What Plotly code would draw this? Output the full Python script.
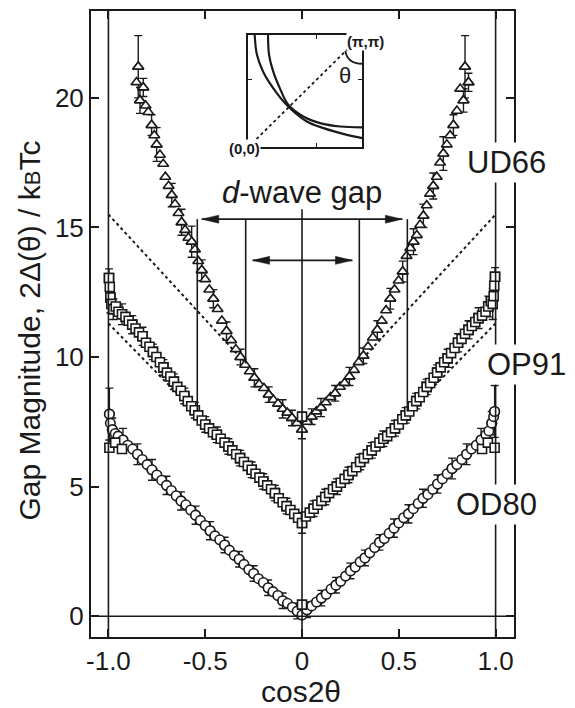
import plotly.graph_objects as go

# ---------------- data ----------------
# UD66 (triangles)
ud66_x = [-0.855, -0.846, -0.837, -0.82, -0.808, -0.794, -0.777, -0.763, -0.751, -0.734,
          -0.717, -0.706, -0.689, -0.673, -0.656, -0.638, -0.622, -0.604, -0.587, -0.57,
          -0.553, -0.536, -0.518, -0.5, -0.479, -0.458, -0.436, -0.414, -0.39, -0.366,
          -0.342, -0.318, -0.294, -0.27, -0.246, -0.221, -0.197, -0.172, -0.148, -0.124,
          -0.1, -0.076, -0.052, -0.026, 0.0,
          0.026, 0.05, 0.074, 0.098, 0.123, 0.147, 0.171, 0.196, 0.22, 0.245,
          0.269, 0.293, 0.317, 0.341, 0.366, 0.389, 0.412, 0.434, 0.456, 0.478,
          0.499, 0.52, 0.54, 0.559, 0.576, 0.593, 0.61, 0.627, 0.644, 0.661,
          0.678, 0.696, 0.713, 0.73, 0.748, 0.765, 0.782, 0.8, 0.817, 0.834, 0.842, 0.86]
ud66_y = [20.6, 21.2, 19.9, 20.4, 19.7, 19.45, 18.95, 18.55, 18.2, 17.8,
          17.45, 16.95, 16.6, 16.25, 15.9, 15.55, 15.2, 14.9, 14.6, 14.45,
          14.15, 13.7, 13.35, 13.0, 12.6, 12.25, 11.85, 11.4, 11.0, 10.65,
          10.3, 10.0, 9.7, 9.45, 9.2, 8.95, 8.8, 8.55, 8.35, 8.2,
          8.0, 7.85, 7.65, 7.45, 7.2,
          7.5, 7.7, 7.9, 8.05, 8.25, 8.45, 8.6, 8.85, 9.0, 9.25,
          9.5, 9.8, 10.05, 10.4, 10.75, 11.05, 11.4, 11.8, 12.25, 12.6,
          12.95, 13.3, 13.9, 14.2, 14.45, 14.7, 15.1, 15.45, 15.85, 16.3,
          16.6, 16.95, 17.5, 17.85, 18.2, 18.55, 18.95, 19.5, 20.35, 19.9, 21.2, 20.6]
ud66_err = [0, 1.2, 0.5, 0.35, 0, 0, 0.4, 0, 0.65, 0,
            0, 0, 0, 0.45, 0, 0, 0.5, 0, 0, 0.6,
            0, 0, 0.4, 0, 0, 0.35, 0, 0, 0.35, 0,
            0, 0.3, 0, 0, 0.35, 0, 0, 0.3, 0, 0,
            0.35, 0, 0.3, 0, 0.35,
            0, 0.3, 0, 0.35, 0, 0, 0.3, 0, 0, 0.35,
            0, 0, 0.3, 0, 0, 0.35, 0, 0, 0.4, 0,
            0, 0.4, 0, 0, 0.5, 0, 0, 0.45, 0, 0,
            0.5, 0, 0, 0.65, 0, 0, 0.4, 0, 0, 0.45, 1.2, 0.35]

# OP91 (squares)
op91_x = [-0.997, -0.993, -0.99, -0.985, -0.975, -0.962, -0.948, -0.93, -0.912, -0.895,
          -0.877, -0.86, -0.842, -0.824, -0.806, -0.788, -0.77, -0.752, -0.734, -0.716,
          -0.698, -0.68, -0.662, -0.644, -0.626, -0.608, -0.59, -0.572, -0.554, -0.536,
          -0.518, -0.5, -0.48, -0.46, -0.44, -0.42, -0.4, -0.38, -0.36, -0.34,
          -0.32, -0.3, -0.28, -0.26, -0.24, -0.22, -0.2, -0.18, -0.16, -0.14,
          -0.12, -0.1, -0.08, -0.06, -0.04, -0.02, 0.0,
          0.02, 0.04, 0.06, 0.08, 0.1, 0.12, 0.14, 0.16, 0.18, 0.2,
          0.22, 0.24, 0.26, 0.28, 0.3, 0.32, 0.34, 0.36, 0.38, 0.4,
          0.42, 0.44, 0.46, 0.48, 0.5, 0.518, 0.536, 0.554, 0.572, 0.59,
          0.608, 0.626, 0.644, 0.662, 0.68, 0.698, 0.716, 0.734, 0.752, 0.77,
          0.788, 0.806, 0.824, 0.842, 0.86, 0.877, 0.895, 0.912, 0.93, 0.948,
          0.962, 0.975, 0.985, 0.99, 0.993, 0.997]
op91_y = [13.05, 12.7, 12.3, 12.05, 11.85, 11.95, 11.75, 11.65, 11.55, 11.4,
          11.25, 11.1, 10.95, 10.8, 10.55, 10.4, 10.2, 10.0, 9.8, 9.6,
          9.4, 9.25, 9.05, 8.85, 8.7, 8.5, 8.3, 8.1, 7.95, 7.75,
          7.55, 7.4, 7.25, 7.1, 7.0, 6.85, 6.7, 6.55, 6.4, 6.25,
          6.1, 5.95, 5.8, 5.65, 5.5, 5.35, 5.2, 5.05, 4.9, 4.75,
          4.55, 4.4, 4.25, 4.1, 3.95, 3.8, 3.6,
          3.85, 4.0, 4.15, 4.3, 4.45, 4.6, 4.75, 4.9, 5.0, 5.15,
          5.3, 5.45, 5.6, 5.75, 5.95, 6.1, 6.25, 6.4, 6.55, 6.7,
          6.85, 6.95, 7.1, 7.25, 7.4, 7.6, 7.75, 7.9, 8.1, 8.3,
          8.45, 8.65, 8.85, 9.0, 9.2, 9.4, 9.6, 9.8, 9.95, 10.15,
          10.35, 10.55, 10.7, 10.9, 11.05, 11.2, 11.35, 11.5, 11.6, 11.75,
          11.95, 12.15, 12.05, 12.35, 12.75, 13.1]
op91_err = [0.35, 0, 0.6, 0, 0.4, 0, 0, 0.4, 0, 0,
            0.35, 0, 0, 0.35, 0, 0, 0.3, 0, 0, 0.3,
            0, 0, 0.3, 0, 0, 0.3, 0, 0, 0.3, 0,
            0, 0.3, 0, 0, 0.3, 0, 0, 0.3, 0, 0,
            0.3, 0, 0, 0.3, 0, 0, 0.3, 0, 0, 0.3,
            0, 0, 0.3, 0, 0, 0, 0.4,
            0, 0, 0.3, 0, 0, 0.3, 0, 0, 0.3, 0,
            0, 0.3, 0, 0, 0.3, 0, 0, 0.3, 0, 0,
            0.3, 0, 0, 0.3, 0, 0, 0.3, 0, 0, 0.3,
            0, 0, 0.3, 0, 0, 0.3, 0, 0, 0.35, 0,
            0, 0.35, 0, 0, 0.35, 0, 0, 0.4, 0, 0,
            0.4, 0, 0.6, 0, 0, 0.35]

# OD80 (circles)
od80_x = [-0.995, -0.99, -0.98, -0.965, -0.95, -0.925, -0.9, -0.875, -0.85, -0.825,
          -0.8, -0.775, -0.75, -0.725, -0.7, -0.675, -0.65, -0.625, -0.6, -0.575,
          -0.55, -0.525, -0.5, -0.475, -0.45, -0.425, -0.4, -0.375, -0.35, -0.325,
          -0.3, -0.275, -0.25, -0.225, -0.2, -0.175, -0.15, -0.125, -0.1, -0.075,
          -0.05, -0.025, 0.0,
          0.025, 0.05, 0.075, 0.1, 0.125, 0.15, 0.175, 0.2, 0.225, 0.25,
          0.275, 0.3, 0.325, 0.35, 0.375, 0.4, 0.425, 0.45, 0.475, 0.5,
          0.525, 0.55, 0.575, 0.6, 0.625, 0.65, 0.675, 0.7, 0.725, 0.75,
          0.775, 0.8, 0.825, 0.85, 0.875, 0.9, 0.925, 0.95, 0.965, 0.98, 0.99, 0.995]
od80_y = [7.8, 7.45, 7.2, 7.05, 6.95, 6.8, 6.6, 6.45, 6.25, 6.05,
          5.85, 5.65, 5.45, 5.25, 5.05, 4.85, 4.65, 4.45, 4.3, 4.1,
          3.9, 3.7, 3.5, 3.3, 3.1, 2.95, 2.75, 2.55, 2.35, 2.2,
          2.0, 1.8, 1.65, 1.45, 1.3, 1.1, 0.95, 0.8, 0.6, 0.5,
          0.35, 0.2, 0.05,
          0.25, 0.4, 0.55, 0.7, 0.85, 1.05, 1.2, 1.35, 1.55, 1.75,
          1.9, 2.1, 2.25, 2.45, 2.65, 2.85, 3.0, 3.2, 3.4, 3.6,
          3.8, 3.95, 4.15, 4.35, 4.55, 4.7, 4.9, 5.1, 5.3, 5.5,
          5.7, 5.85, 6.05, 6.25, 6.45, 6.6, 6.8, 7.0, 7.15, 7.45, 7.7, 7.9]
od80_err = [1.0, 0, 0.45, 0, 0, 0.45, 0, 0, 0.4, 0,
            0, 0.4, 0, 0, 0.35, 0, 0, 0.35, 0, 0,
            0.35, 0, 0, 0.35, 0, 0, 0.3, 0, 0, 0.3,
            0, 0, 0.3, 0, 0, 0.3, 0, 0, 0.3, 0,
            0, 0.3, 0,
            0.3, 0, 0, 0.3, 0, 0, 0.3, 0, 0, 0.3,
            0, 0, 0.3, 0, 0, 0.3, 0, 0, 0.35, 0,
            0, 0.35, 0, 0, 0.35, 0, 0, 0.35, 0, 0,
            0.4, 0, 0, 0.4, 0, 0, 0.45, 0, 0, 0.45, 0, 1.0]

# a few extra square points sitting among the OD80 / UD66 circles and triangles
extra_sq_x = [-0.995, -0.965, -0.93, 0.0, 0.93, 0.96, 0.995, 0.0]
extra_sq_y = [6.5, 6.7, 6.45, 0.45, 6.45, 6.7, 6.5, 7.7]

# d-wave reference lines (dotted)
fit_ud66_x = [-1.0, -0.29, None, 0.29, 1.0]
fit_ud66_y = [15.5, 9.75, None, 9.75, 15.5]
fit_op91_x = [-1.0, -0.62, None, 0.62, 1.0]
fit_op91_y = [11.3, 8.4, None, 8.4, 11.3]

# "d-wave gap" markers: arrows and vertical guide lines
arrow_long_x = [-0.518, 0.518]
arrow_long_y = 15.32
arrow_short_x = [-0.255, 0.26]
arrow_short_y = 13.73
guide_x = [-0.541, -0.291, 0.296, 0.544]
guide_bottom = [7.9, 9.75, 9.9, 7.9]
center_top = 15.7

# inset: schematic Fermi surfaces (unit square, (0,0)..(pi,pi))
fs_a_u = [0.059, 0.079, 0.132, 0.221, 0.338, 0.515, 0.662, 0.868, 1.0]
fs_a_v = [1.0, 0.822, 0.675, 0.527, 0.379, 0.231, 0.172, 0.112, 0.083]
fs_b_u = [0.176, 0.185, 0.221, 0.279, 0.353, 0.485, 0.632, 0.809, 1.0]
fs_b_v = [1.0, 0.822, 0.675, 0.527, 0.379, 0.275, 0.216, 0.186, 0.178]
diag_u = [0.0, 1.0]
diag_v = [0.0, 1.0]

x_ticks = [-1.0, -0.5, 0.0, 0.5, 1.0]
x_ticktext = ["-1.0", "-0.5", "0", "0.5", "1.0"]
y_ticks = [0, 5, 10, 15, 20]

X_RANGE = [-1.09, 1.095]
Y_RANGE = [-0.8, 23.35]

# ---------------- figure ----------------
FONT = "Liberation Sans, Arial, Helvetica, sans-serif"
INK = "#1a1a1a"

fig = go.Figure()

# dotted d-wave lines (beneath the markers)
for fx, fy in [(fit_ud66_x, fit_ud66_y), (fit_op91_x, fit_op91_y)]:
    fig.add_trace(go.Scatter(x=fx, y=fy, mode="lines",
                             line=dict(color=INK, width=2, dash="dot"),
                             hoverinfo="skip", showlegend=False))


def series(xs, ys, es, symbol, size):
    ex = [x for x, e in zip(xs, es) if e > 0]
    ey = [y for y, e in zip(ys, es) if e > 0]
    ee = [e for e in es if e > 0]
    mk = dict(symbol=symbol, size=size, color="white", line=dict(color=INK, width=1.6))
    fig.add_trace(go.Scatter(x=ex, y=ey, mode="markers", marker=mk,
                             error_y=dict(type="data", array=ee, visible=True,
                                          color=INK, thickness=1.4, width=4),
                             showlegend=False, hoverinfo="skip"))
    fig.add_trace(go.Scatter(x=xs, y=ys, mode="markers", marker=mk,
                             showlegend=False))


series(od80_x, od80_y, od80_err, "circle", 9.5)
series(op91_x, op91_y, op91_err, "square", 9)
series(ud66_x, ud66_y, ud66_err, "triangle-up", 9.5)
fig.add_trace(go.Scatter(x=extra_sq_x, y=extra_sq_y, mode="markers",
                         marker=dict(symbol="square", size=9, color="white",
                                     line=dict(color=INK, width=1.6)),
                         showlegend=False))

# inset curves
fig.add_trace(go.Scatter(x=diag_u, y=diag_v, xaxis="x2", yaxis="y2", mode="lines",
                         line=dict(color=INK, width=1.8, dash="dot"), showlegend=False))
for u, v in [(fs_a_u, fs_a_v), (fs_b_u, fs_b_v)]:
    fig.add_trace(go.Scatter(x=u, y=v, xaxis="x2", yaxis="y2", mode="lines",
                             line=dict(color=INK, width=2.2, shape="spline", smoothing=1.0),
                             showlegend=False))

shapes = []
LW = 1.6
# full-height reference lines at cos2θ = ±1 and y = 0
for xv in (-1.0, 1.0):
    shapes.append(dict(type="line", xref="x", yref="y domain", x0=xv, x1=xv, y0=0, y1=1,
                       line=dict(color=INK, width=LW), layer="above"))
shapes.append(dict(type="line", xref="x domain", yref="y", x0=0, x1=1, y0=0, y1=0,
                   line=dict(color=INK, width=LW), layer="above"))
# centre line
shapes.append(dict(type="line", xref="x", yref="y", x0=0, x1=0, y0=Y_RANGE[0], y1=center_top,
                   line=dict(color=INK, width=LW), layer="above"))
# guide lines
for gx, gb in zip(guide_x, guide_bottom):
    shapes.append(dict(type="line", xref="x", yref="y", x0=gx, x1=gx, y0=gb, y1=arrow_long_y,
                       line=dict(color=INK, width=LW), layer="above"))
# arrow shafts + pixel-sized heads
for ax_, ay_ in [(arrow_long_x, arrow_long_y), (arrow_short_x, arrow_short_y)]:
    shapes.append(dict(type="line", xref="x", yref="y", x0=ax_[0], x1=ax_[1], y0=ay_, y1=ay_,
                       line=dict(color=INK, width=LW), layer="above"))
    shapes.append(dict(type="path", xref="x", yref="y", xsizemode="pixel", ysizemode="pixel",
                       xanchor=ax_[0], yanchor=ay_, path="M0,0 L17,4 L17,-4 Z",
                       fillcolor=INK, line=dict(color=INK, width=0.5), layer="above"))
    shapes.append(dict(type="path", xref="x", yref="y", xsizemode="pixel", ysizemode="pixel",
                       xanchor=ax_[1], yanchor=ay_, path="M0,0 L-17,4 L-17,-4 Z",
                       fillcolor=INK, line=dict(color=INK, width=0.5), layer="above"))
# inset theta arc
shapes.append(dict(type="path", xref="x2", yref="y2",
                   path="M0.853,0.858 Q0.87,0.745 1.0,0.743",
                   line=dict(color=INK, width=1.8)))

LBL = dict(size=31, family=FONT, color=INK)
annotations = [
    dict(text="<i>d</i>-wave gap", x=0.0, y=16.35, xref="x", yref="y", showarrow=False,
         font=LBL, xanchor="center", yanchor="middle"),
    dict(text="UD66", x=0.9826, y=17.5, xref="paper", yref="y", showarrow=False,
         font=LBL, bgcolor="white", borderpad=2, xanchor="center", yanchor="middle"),
    dict(text="OP91", x=1.030, y=9.7, xref="paper", yref="y", showarrow=False,
         font=LBL, bgcolor="white", borderpad=2, xanchor="center", yanchor="middle"),
    dict(text="OD80", x=0.9593, y=4.33, xref="paper", yref="y", showarrow=False,
         font=LBL, bgcolor="white", borderpad=2, xanchor="center", yanchor="middle"),
    dict(text="Gap Magnitude, 2Δ(θ) / k<span style='font-size:22px'>B</span>Tc",
         x=-0.146, y=0.49, xref="paper", yref="paper", showarrow=False, textangle=-90,
         font=dict(size=30, family=FONT, color=INK), xanchor="center", yanchor="middle"),
    dict(text="cos2θ", x=0.4976, y=-0.0865, xref="paper", yref="paper", showarrow=False,
         font=dict(size=30, family=FONT, color=INK), borderpad=0,
         xanchor="center", yanchor="middle"),
    # inset labels
    dict(text="<b>(π,π)</b>", x=0.649, y=0.952, xref="paper", yref="paper", showarrow=False,
         font=dict(size=15, family=FONT, color=INK), bgcolor="white", borderpad=0,
         xanchor="center", yanchor="middle"),
    dict(text="<b>(0,0)</b>", x=0.364, y=0.780, xref="paper", yref="paper", showarrow=False,
         font=dict(size=15, family=FONT, color=INK), bgcolor="white", borderpad=0,
         xanchor="center", yanchor="middle"),
    dict(text="θ", x=0.85, y=0.64, xref="x2", yref="y2", showarrow=False,
         font=dict(size=22, family=FONT, color=INK), xanchor="center", yanchor="middle"),
]

axis_common = dict(showline=True, linecolor=INK, linewidth=2, mirror="ticks",
                   ticks="inside", ticklen=8, tickwidth=1.5, tickcolor=INK,
                   showgrid=False, zeroline=False,
                   tickfont=dict(size=26, family=FONT, color=INK))

# the page body adds an 8px offset, so the figure is 8px smaller than the window
fig.update_layout(
    width=567, height=700,
    margin=dict(l=83, r=61, t=1, b=71),
    paper_bgcolor="white", plot_bgcolor="white",
    showlegend=False,
    font=dict(family=FONT, color=INK),
    xaxis=dict(range=X_RANGE, tickvals=x_ticks, ticktext=x_ticktext, **axis_common),
    yaxis=dict(range=Y_RANGE, tickvals=y_ticks, **axis_common),
    xaxis2=dict(domain=[0.371, 0.641], anchor="y2", range=[0, 1], showline=True,
                linecolor=INK, linewidth=2, mirror="ticks", ticks="inside", ticklen=4,
                tickwidth=1.3, tickcolor=INK, tickvals=[0.6], showticklabels=False,
                showgrid=False, zeroline=False),
    yaxis2=dict(domain=[0.782, 0.962], anchor="x2", range=[0, 1], showline=True,
                linecolor=INK, linewidth=2, mirror="ticks", ticks="inside", ticklen=4,
                tickwidth=1.3, tickcolor=INK, tickvals=[0.6], showticklabels=False,
                showgrid=False, zeroline=False),
    shapes=shapes,
    annotations=annotations,
)

fig.write_html("out.html")
